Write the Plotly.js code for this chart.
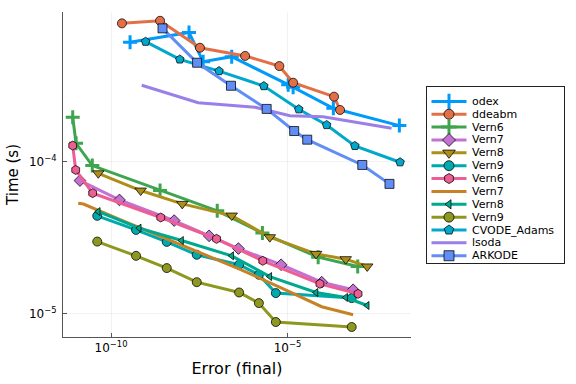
<!DOCTYPE html>
<html>
<head>
<meta charset="utf-8">
<script src="https://cdn.plot.ly/plotly-3.0.1.min.js"></script>
<style>html,body{margin:0;padding:0;background:#fff;}#plot{width:576px;height:384px;}</style>
</head>
<body>
<div id="plot"></div>
<script>
// log10 values
const odexX = [-9.46, -7.79, -7.39, -6.58, -4.98, -4.84, -3.70, -1.83];
const odexY = [-3.21, -3.145, -3.338, -3.305, -3.49, -3.507, -3.646, -3.76];
const ddeabmX = [-9.69, -8.61, -7.48, -6.20, -5.23, -4.84, -3.68, -3.51];
const ddeabmY = [-3.085, -3.068, -3.246, -3.30, -3.367, -3.477, -3.569, -3.657];
const vern6aX = [-11.085, -10.99, -10.53, -8.61, -6.99, -5.71, -4.13, -3.01];
const vern6aY = [-3.705, -3.877, -4.024, -4.189, -4.323, -4.47, -4.629, -4.69];
const vern7aX = [-10.88, -9.76, -8.21, -7.22, -6.39, -5.18, -4.03, -3.14];
const vern7aY = [-4.123, -4.251, -4.387, -4.488, -4.572, -4.679, -4.794, -4.844];
const vern8aX = [-10.36, -9.16, -7.98, -6.58, -5.50, -4.19, -3.35, -2.74];
const vern8aY = [-4.075, -4.189, -4.277, -4.354, -4.497, -4.607, -4.642, -4.69];
const vern9aX = [-10.39, -9.29, -8.42, -7.57, -6.37, -5.81, -5.33, -3.18];
const vern9aY = [-4.356, -4.449, -4.528, -4.613, -4.679, -4.745, -4.866, -4.899];
const vern6bX = [-11.085, -11.0, -10.52, -8.59, -7.01, -5.70, -4.08, -3.0];
const vern6bY = [-3.892, -4.053, -4.206, -4.367, -4.508, -4.653, -4.805, -4.871];
const vern7bX = [-10.93, -10.78, -9.76, -8.21, -7.22, -6.39, -5.18, -4.03, -3.14];
const vern7bY = [-4.273, -4.278, -4.38, -4.53, -4.624, -4.704, -4.831, -4.956, -5.009];
const vern8bX = [-10.36, -9.20, -8.0, -6.58, -5.50, -4.19, -3.35, -2.74];
const vern8bY = [-4.328, -4.437, -4.519, -4.62, -4.757, -4.862, -4.895, -4.948];
const vern9bX = [-10.39, -9.29, -8.42, -7.57, -6.37, -5.81, -5.33, -3.18];
const vern9bY = [-4.526, -4.62, -4.701, -4.794, -4.862, -4.932, -5.057, -5.09];
const cvodeX = [-9.02, -8.05, -6.94, -5.67, -4.68, -3.89, -3.09, -1.81];
const cvodeY = [-3.206, -3.323, -3.40, -3.499, -3.652, -3.756, -3.894, -4.002];
const lsodaX = [-9.13, -7.53, -5.92, -4.93, -3.99, -2.05];
const lsodaY = [-3.494, -3.609, -3.639, -3.695, -3.701, -3.778];
const arkodeX = [-8.54, -7.56, -6.60, -5.59, -4.81, -4.44, -2.88, -2.11];
const arkodeY = [-3.118, -3.345, -3.497, -3.65, -3.796, -3.853, -4.02, -4.145];

const names = ["odex","ddeabm","Vern6","Vern7","Vern8","Vern9","Vern6","Vern7","Vern8","Vern9","CVODE_Adams","lsoda","ARKODE"];
const xTickVals = [1e-10, 1e-5];
const xTickText = ["10<sup>\u221210</sup>", "10<sup>\u22125</sup>"];
const yTickVals = [1e-5, 1e-4];
const yTickText = ["10<sup>\u22125</sup>", "10<sup>\u22124</sup>"];

const p10 = a => a.map(v => Math.pow(10, v));
const specs = [
  [odexX, odexY, "#009AFA", "cross-thin", 10],
  [ddeabmX, ddeabmY, "#E36F47", "circle", 9],
  [vern6aX, vern6aY, "#3EA44E", "cross-thin", 10],
  [vern7aX, vern7aY, "#C371D2", "diamond", 9],
  [vern8aX, vern8aY, "#AC8E18", "triangle-down", 10],
  [vern9aX, vern9aY, "#00A9AD", "circle", 9],
  [vern6bX, vern6bY, "#ED5E93", "hexagon", 9],
  [vern7bX, vern7bY, "#C68225", null, 0],
  [vern8bX, vern8bY, "#00A98D", "triangle-left", 7],
  [vern9bX, vern9bY, "#8E971E", "circle", 9],
  [cvodeX, cvodeY, "#00A8CB", "pentagon", 9],
  [lsodaX, lsodaY, "#9B7FE9", null, 0],
  [arkodeX, arkodeY, "#618DF6", "square", 9]
];
function markerFor(s) {
  if (s[3] === "cross-thin") return {symbol: "cross-thin", size: s[4], color: s[2], line: {color: s[2], width: 3}};
  return {symbol: s[3], size: s[4], color: s[2], line: {color: "rgba(0,0,0,0.75)", width: 1}};
}
const traces = specs.map((s, i) => {
  const t = {x: p10(s[0]), y: p10(s[1]), name: names[i], type: "scatter",
    mode: s[3] ? "lines+markers" : "lines", line: {color: s[2], width: 3},
    showlegend: false, xaxis: "x", yaxis: "y"};
  if (s[3]) t.marker = markerFor(s);
  return t;
});

// custom legend (pixel-unit axes inside the legend box)
const LEG_W = 137, LEG_H = 176, ROW0 = 14.4, ROW = 12.86;
const annotations = [];
specs.forEach((s, i) => {
  const yy = ROW0 + ROW * i;
  traces.push({x: [4.5, 39.5], y: [yy, yy], mode: "lines", line: {color: s[2], width: 3},
    xaxis: "x2", yaxis: "y2", showlegend: false, hoverinfo: "skip"});
  if (s[3]) {
    const m = markerFor(s);
    m.size = s[3] === "cross-thin" ? 11 : s[4] + 1;
    traces.push({x: [22], y: [yy], mode: "markers", marker: m,
      xaxis: "x2", yaxis: "y2", showlegend: false, hoverinfo: "skip"});
  }
  annotations.push({x: 43.5, y: yy, xref: "x2", yref: "y2", text: names[i], showarrow: false,
    xanchor: "left", yanchor: "middle", borderpad: 0, font: {size: 11, color: "#000"}});
});

const plotW = 576 - 63 - 5;
const layout = {
  width: 576, height: 384,
  margin: {l: 63, r: 5, t: 12, b: 47},
  paper_bgcolor: "#fff", plot_bgcolor: "rgba(0,0,0,0)",
  font: {family: "DejaVu Sans, sans-serif", size: 11, color: "#000"},
  showlegend: false,
  annotations: annotations,
  xaxis: {type: "log", domain: [0, 348 / plotW], range: [-11.36, -1.5],
    tickvals: xTickVals, ticktext: xTickText,
    showgrid: true, gridcolor: "rgba(0,0,0,0.1)", gridwidth: 0.5,
    showline: true, linecolor: "#555", linewidth: 1, mirror: false,
    ticks: "inside", ticklen: 4, tickcolor: "#555", zeroline: false,
    tickfont: {size: 12},
    title: {text: "Error (final)", font: {size: 16}, standoff: 8}},
  yaxis: {type: "log", range: [-5.156, -3.01], tickvals: yTickVals, ticktext: yTickText,
    showgrid: true, gridcolor: "rgba(0,0,0,0.1)", gridwidth: 0.5,
    showline: true, linecolor: "#555", linewidth: 1, mirror: false,
    ticks: "inside", ticklen: 4, tickcolor: "#555", zeroline: false,
    tickfont: {size: 12}, ticklabelstandoff: 3,
    title: {text: "Time (s)", font: {size: 15}, standoff: 6}},
  xaxis2: {domain: [(427 - 63) / plotW, (564 - 63) / plotW], range: [0, LEG_W], anchor: "y2",
    showgrid: false, zeroline: false, showticklabels: false, ticks: "",
    showline: true, mirror: true, linecolor: "#222", linewidth: 1},
  yaxis2: {domain: [(337 - 263) / 325, (337 - 87) / 325], range: [LEG_H, 0], anchor: "x2",
    showgrid: false, zeroline: false, showticklabels: false, ticks: "",
    showline: true, mirror: true, linecolor: "#222", linewidth: 1}
};
Plotly.newPlot("plot", traces, layout, {staticPlot: true, displayModeBar: false});
</script>
</body>
</html>
